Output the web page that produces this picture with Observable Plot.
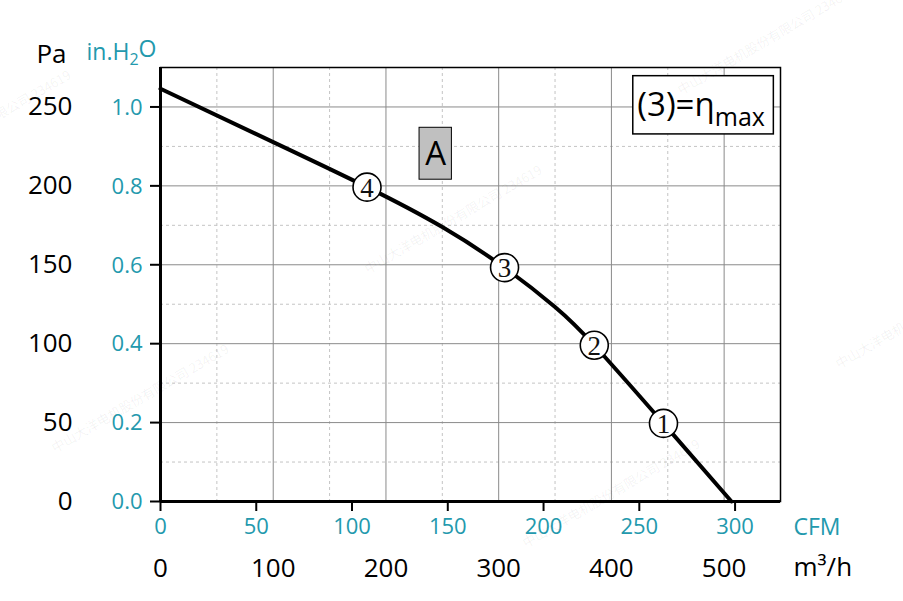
<!DOCTYPE html>
<html>
<head>
<meta charset="utf-8">
<script src="https://cdn.jsdelivr.net/npm/d3@7"></script>
<script src="https://cdn.jsdelivr.net/npm/@observablehq/plot@0.6"></script>
<style>
  html, body { margin: 0; padding: 0; background: #fff; }
  #chart { width: 903px; height: 601px; }
</style>
</head>
<body>
<div id="chart"></div>
<script>
// ---- data ----
const flowM3h    = [0, 100, 183.2, 250, 305.2, 350, 384.8, 446.2, 506.5];
const pressurePa = [261.5, 227.7, 199.2, 173.9, 148.2, 123.3, 99, 49.5, 0];

const opLabels = ["1", "2", "3", "4"];
const opFlow   = [446.2, 384.8, 305.2, 183.2];
const opPa     = [49.5, 99, 148.2, 199.2];

const paTicks    = [0, 50, 100, 150, 200, 250];
const inH2OTicks = [0.0, 0.2, 0.4, 0.6, 0.8, 1.0];
const cfmTicks   = [0, 50, 100, 150, 200, 250, 300];
const m3hTicks   = [0, 100, 200, 300, 400, 500];

const gridSolidX = [100, 200, 300, 400, 500];
const gridDashX  = [50, 150, 250, 350, 450];
const gridSolidY = [50, 100, 150, 200, 250];
const gridDashY  = [25, 75, 125, 175, 225];

const PA_PER_INH2O = 249.089;
const M3H_PER_CFM  = 1.699011;

// annotation boxes (data units: m³/h, Pa)
const boxA    = [{x1: 229.8, x2: 258.5, y1: 203.9, y2: 236.8, label: "A"}];
const boxEta  = [{x1: 419.4, x2: 544.1, y1: 232.6, y2: 269.5, label: "(3)=η"}];

const curve = flowM3h.map((q, i) => ({q, p: pressurePa[i]}));
const ops = opLabels.map((n, i) => ({n, q: opFlow[i], p: opPa[i]}));

const TEAL = "#2399ad";
const FONT = "'Open Sans', 'Noto Sans', sans-serif";

const chart = Plot.plot({
  width: 903,
  height: 601,
  marginLeft: 160,
  marginRight: 123,
  marginTop: 67,
  marginBottom: 100,
  style: {fontFamily: FONT, background: "white"},
  x: {domain: [0, 550], axis: null},
  y: {domain: [0, 275], axis: null},
  marks: [
    Plot.ruleX(gridDashX, {stroke: "#c4c4c4", strokeDasharray: "3,3"}),
    Plot.ruleY(gridDashY, {stroke: "#c4c4c4", strokeDasharray: "3,3"}),
    Plot.ruleX(gridSolidX, {stroke: "#8a8a8a"}),
    Plot.ruleY(gridSolidY, {stroke: "#8a8a8a"}),
    Plot.frame({stroke: "black", strokeWidth: 1.5}),
    Plot.ruleX([0], {stroke: "black", strokeWidth: 3}),
    Plot.ruleY([0], {stroke: "black", strokeWidth: 3}),

    // left axes
    Plot.axisY(paTicks, {anchor: "left", tickSize: 10, tickPadding: 78, strokeWidth: 2,
      fontSize: 26, fill: "black", stroke: "black", label: null, tickFormat: d => String(d)}),
    Plot.axisY(inH2OTicks.map(v => v * PA_PER_INH2O), {anchor: "left", tickSize: 0, tickPadding: 18,
      fontSize: 22, fill: TEAL, label: null, tickFormat: d => (d / PA_PER_INH2O).toFixed(1)}),
    // bottom axes
    Plot.axisX(cfmTicks.map(v => v * M3H_PER_CFM), {anchor: "bottom", tickSize: 10, tickPadding: 7, strokeWidth: 2,
      fontSize: 22, fill: TEAL, stroke: "black", label: null, tickFormat: d => String(Math.round(d / M3H_PER_CFM))}),
    Plot.axisX(m3hTicks, {anchor: "bottom", tickSize: 0, tickPadding: 57,
      fontSize: 26, fill: "black", label: null, tickFormat: d => String(d)}),

    // unit labels
    Plot.text(["Pa"], {frameAnchor: "top-left", lineAnchor: "middle", dx: -109, dy: -13, fontSize: 26, fill: "black", textAnchor: "middle"}),
    Plot.text(["in.H2O"], {frameAnchor: "top-left", lineAnchor: "middle", dx: -74, dy: -15, fontSize: 23, fill: TEAL, textAnchor: "start", className: "lab-inh2o"}),
    Plot.text(["CFM"], {frameAnchor: "bottom-right", lineAnchor: "middle", dx: 13, dy: 26, fontSize: 23, fill: TEAL, textAnchor: "start"}),
    Plot.text(["m³/h"], {frameAnchor: "bottom-right", lineAnchor: "middle", dx: 13, dy: 66, fontSize: 26, fill: "black", textAnchor: "start"}),

    // curve
    Plot.line(curve, {x: "q", y: "p", stroke: "black", strokeWidth: 4, curve: "natural"}),

    // operating points
    Plot.dot(ops, {x: "q", y: "p", r: 14, fill: "white", stroke: "black", strokeWidth: 1.6}),
    Plot.text(ops, {x: "q", y: "p", text: "n", fontFamily: "'Liberation Serif', 'DejaVu Serif', serif", fontSize: 27, fill: "#111", dy: 1}),

    // annotation boxes
    Plot.rect(boxA, {x1: "x1", x2: "x2", y1: "y1", y2: "y2", fill: "#c0c0c0", stroke: "black", strokeWidth: 1}),
    Plot.text(boxA, {x: d => (d.x1 + d.x2) / 2, y: d => (d.y1 + d.y2) / 2, text: "label", fontSize: 33, fill: "black", dy: 1}),
    Plot.rect(boxEta, {x1: "x1", x2: "x2", y1: "y1", y2: "y2", fill: "white", stroke: "black", strokeWidth: 1.5}),
    Plot.text(boxEta, {x: "x1", y: d => (d.y1 + d.y2) / 2, text: "label", textAnchor: "start", dx: 4, fontSize: 33, fill: "black", className: "lab-eta"})
  ]
});

// rich text: subscripts
d3.select(chart).selectAll(".lab-inh2o text").each(function() {
  const t = d3.select(this);
  t.text(null);
  t.append("tspan").text("in.H");
  t.append("tspan").attr("font-size", 16).attr("dy", "0.35em").text("2");
  t.append("tspan").attr("dy", "-0.35em").text("O");
});
d3.select(chart).selectAll(".lab-eta text").each(function() {
  const t = d3.select(this);
  t.text(null);
  t.append("tspan").text("(3)=η");
  t.append("tspan").attr("font-size", 25).attr("dy", "0.4em").text("max");
});

// faint watermark (decorative, tiled as in the reference)
const wmText = "中山大洋电机股份有限公司 234619";
const wmEnds = [[72, 78], [543, 173], [230, 352], [701, 447], [1014, 268], [856, -6], [385, -101]];
const wm = d3.select(chart).append("g").attr("pointer-events", "none");
wmEnds.forEach(([x, y]) => {
  wm.append("text")
    .attr("transform", `translate(${x},${y}) rotate(-30)`)
    .attr("text-anchor", "end")
    .attr("font-family", "'Noto Sans CJK SC', sans-serif")
    .attr("font-size", 13)
    .attr("fill", "#000")
    .attr("fill-opacity", 0.06)
    .text(wmText);
});

document.getElementById("chart").appendChild(chart);
</script>
</body>
</html>
